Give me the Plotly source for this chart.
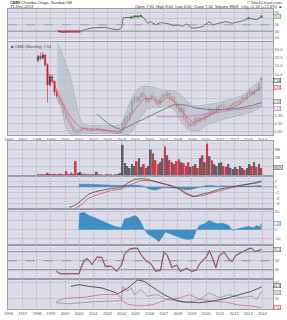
import math
import plotly.graph_objects as go

# ---------------- text ----------------
title_left = "<b>CEMI</b> Chembio Diags, Nasdaq GM"
date_text = "31-Dec-2013"
quote_text = "Open 7.90  High 8.60  Low 6.00  Close 7.54  Volume 880K  Chg +1.34 (+21.6%) ▲"
credit = "© StockCharts.com"
price_label = "■ CEMI (Monthly) 7.54"

year_ticks = list(range(1996, 2015))
year_labels = [str(y) for y in year_ticks]

# ---------------- price candles (two-month bars, Jan/Feb 1998 ... Nov/Dec 2013) ----------------
price_open = [20, 24, 22, 26, 16, 6,
              9, 7, 4.2, 3.4, 2.6, 2.2,
              1.5, 1.1, 0.95, 0.78, 0.62, 0.58,
              0.62, 0.66, 0.72, 0.68, 0.64, 0.62,
              0.68, 0.66, 0.70, 0.66, 0.63, 0.66,
              0.61, 0.63, 0.59, 0.57, 0.60, 0.56,
              0.62, 0.90, 1.15, 1.25, 1.5, 2.6,
              3.2, 2.7, 3.3, 3.9, 3.4, 2.6,
              3.0, 3.5, 3.2, 2.5, 2.3, 3.1,
              3.7, 3.4, 4.0, 3.1, 3.3, 2.5,
              2.0, 1.6, 1.9, 1.2, 0.95, 0.8,
              0.9, 0.82, 1.15, 1.0, 1.2, 1.1,
              1.3, 1.25, 1.8, 1.45, 1.7, 1.9,
              2.1, 2.2, 2.0, 1.85, 1.95, 2.2,
              2.4, 2.6, 2.5, 2.8, 3.2, 3.0,
              3.8, 4.5, 3.7, 4.6, 4.4, 7.9]
price_high = [26, 29, 30, 27, 17, 10,
              10, 7.5, 4.8, 3.6, 3.0, 2.3,
              1.6, 1.35, 1.05, 0.80, 0.70, 0.68,
              0.72, 0.78, 0.76, 0.72, 0.68, 0.72,
              0.72, 0.72, 0.74, 0.70, 0.69, 0.68,
              0.66, 0.65, 0.63, 0.62, 0.62, 0.64,
              0.95, 1.3, 1.35, 1.6, 3.0, 3.5,
              3.4, 3.5, 4.2, 5.4, 3.6, 3.3,
              3.8, 4.2, 3.5, 2.8, 3.3, 4.0,
              4.5, 4.5, 4.1, 3.6, 3.4, 2.7,
              2.4, 2.1, 2.0, 1.3, 1.05, 1.0,
              1.0, 1.25, 1.3, 1.3, 1.35, 1.4,
              1.55, 2.0, 1.9, 1.8, 2.1, 2.3,
              2.4, 2.6, 2.3, 2.1, 2.3, 2.6,
              2.8, 3.0, 3.0, 3.5, 3.6, 4.0,
              4.9, 4.8, 5.0, 5.6, 6.5, 8.6]
price_low = [18, 20, 21, 15, 2.5, 5.5,
             6.5, 3.5, 3.0, 2.3, 2.0, 1.3,
             1.0, 0.85, 0.70, 0.56, 0.53, 0.55,
             0.60, 0.60, 0.64, 0.60, 0.58, 0.60,
             0.62, 0.62, 0.63, 0.60, 0.58, 0.58,
             0.57, 0.56, 0.55, 0.53, 0.53, 0.53,
             0.58, 0.85, 1.0, 1.05, 1.4, 2.3,
             2.4, 2.5, 2.8, 3.0, 2.3, 2.4,
             2.7, 3.0, 2.3, 2.0, 2.2, 2.8,
             3.1, 3.2, 2.8, 2.6, 2.3, 1.7,
             1.45, 1.35, 1.05, 0.85, 0.70, 0.75,
             0.76, 0.80, 0.90, 0.95, 1.0, 1.0,
             1.15, 1.2, 1.3, 1.35, 1.6, 1.7,
             1.9, 1.8, 1.7, 1.65, 1.75, 2.0,
             2.1, 2.3, 2.2, 2.6, 2.8, 2.9,
             3.5, 3.4, 3.6, 4.2, 4.3, 6.0]
price_close = [24, 22, 26, 16, 6, 9,
               7, 4.2, 3.4, 2.6, 2.2, 1.5,
               1.1, 0.95, 0.78, 0.62, 0.58, 0.62,
               0.66, 0.72, 0.68, 0.64, 0.62, 0.68,
               0.66, 0.70, 0.66, 0.63, 0.66, 0.61,
               0.63, 0.59, 0.57, 0.60, 0.56, 0.62,
               0.90, 1.15, 1.25, 1.5, 2.6, 3.2,
               2.7, 3.3, 3.9, 3.4, 2.6, 3.0,
               3.5, 3.2, 2.5, 2.3, 3.1, 3.7,
               3.4, 4.0, 3.1, 3.3, 2.5, 2.0,
               1.6, 1.9, 1.2, 0.95, 0.8, 0.9,
               0.82, 1.15, 1.0, 1.2, 1.1, 1.3,
               1.25, 1.8, 1.45, 1.7, 1.9, 2.1,
               2.2, 2.0, 1.85, 1.95, 2.2, 2.4,
               2.6, 2.5, 2.8, 3.2, 3.0, 3.8,
               4.5, 3.7, 4.6, 4.4, 6.2, 7.54]
volume_k = [110, 110, 165, 165, 330, 220,
            165, 220, 110, 220, 220, 165,
            550, 220, 330, 220, 1650, 330,
            440, 220, 220, 165, 110, 110,
            110, 440, 110, 110, 55, 110,
            110, 110, 55, 110, 220, 330,
            3500, 1430, 1100, 880, 1320, 1100,
            1650, 1980, 990, 1320, 880, 1100,
            2970, 2530, 1760, 1320, 1540, 1980,
            3300, 2310, 1760, 1540, 1320, 1650,
            1870, 1540, 1430, 1100, 1540, 990,
            1100, 1320, 880, 1980, 2310, 1540,
            3630, 2200, 1760, 1320, 1100, 1430,
            1540, 1100, 990, 1320, 880, 770,
            990, 770, 1100, 880, 660, 880,
            1320, 1100, 1540, 990, 1320, 880]
period_x = [1998 + (i + 0.5) / 6 for i in range(len(price_close))]

# ---------------- overlays on the price panel ----------------
ma_red_x = [1998.75, 1999.0, 1999.37, 1999.83, 2000.30, 2000.76, 2001.22, 2002.0, 2003.0, 2004.0,
            2004.22, 2004.69, 2005.15, 2005.61, 2006.30, 2006.77, 2007.23, 2007.69, 2008.16, 2008.62,
            2009.08, 2009.54, 2010.24, 2010.93, 2011.86, 2012.55, 2013.24, 2013.93]
ma_red_y = [11, 9, 4.9, 2.36, 1.33, 0.89, 0.70, 0.67, 0.63, 0.60,
            0.75, 1.33, 2.15, 3.0, 3.0, 2.5, 3.2, 2.77, 1.85, 1.25,
            0.94, 1.05, 1.33, 1.71, 1.9, 2.5, 3.8, 5.3]
ma_gray_x = [2002.26, 2002.61, 2003.07, 2003.53, 2004.0, 2004.46, 2004.92, 2005.61, 2006.30, 2007.0,
             2007.69, 2008.16, 2008.62, 2009.31, 2010.0, 2010.47, 2011.40, 2012.32, 2013.24, 2013.93]
ma_gray_y = [1.45, 1.14, 0.89, 0.73, 0.66, 0.77, 0.89, 1.14, 1.45, 1.85,
             2.25, 2.25, 2.2, 1.9, 1.78, 1.75, 1.78, 1.9, 2.15, 2.49]
ma_purple_x = [2006.54, 2007.5, 2008.4, 2009.5, 2010.5, 2011.86, 2013.2, 2013.93]
ma_purple_y = [1.25, 1.25, 1.25, 1.35, 1.5, 1.71, 1.9, 2.1]
bb_up_x = [1999.45, 1999.7, 2000.0, 2000.3, 2000.53, 2000.76, 2000.99, 2001.22, 2001.68, 2002.61,
           2003.53, 2004.0, 2004.22, 2004.46, 2004.8, 2005.15, 2005.61, 2006.30, 2007.0, 2007.69,
           2008.16, 2008.62, 2009.08, 2009.54, 2010.24, 2010.93, 2011.86, 2012.55, 2013.24, 2013.93]
bb_up_y = [45, 34, 19, 11, 5.7, 2.5, 1.33, 0.89, 0.80, 0.82,
           0.80, 0.85, 1.33, 2.0, 3.5, 4.9, 5.7, 5.3, 4.5, 4.5,
           3.8, 2.77, 2.15, 2.15, 2.3, 2.5, 3.0, 3.5, 5.3, 7.9]
bb_lo_x = [1999.45, 1999.7, 2000.0, 2000.3, 2000.6, 2000.99, 2001.22, 2003.77, 2004.0, 2004.5,
           2004.92, 2005.38, 2005.85, 2006.54, 2007.23, 2007.69, 2008.16, 2008.62, 2009.08, 2009.54,
           2010.0, 2010.70, 2011.40, 2012.32, 2013.24, 2013.93]
bb_lo_y = [3.0, 2.07, 0.82, 0.55, 0.5, 0.5, 0.55, 0.55, 0.53, 0.52,
           0.70, 1.25, 1.85, 2.0, 2.15, 1.85, 1.05, 0.70, 0.60, 0.63,
           0.82, 0.97, 1.14, 1.33, 1.57, 2.0]

# ---------------- top panel (rank line) ----------------
rank_low_x = [1999.49, 1999.8, 2000.2, 2000.6, 2001.1]
rank_low_y = [30, 28, 29, 28, 29]
rank_x = [2001.1, 2001.22, 2001.91, 2002.84, 2003.30, 2003.77, 2004.0, 2004.11, 2004.22, 2004.69,
          2004.92, 2005.15, 2005.38, 2005.61, 2005.85, 2006.07, 2006.42, 2006.77, 2007.0, 2007.34,
          2007.69, 2008.04, 2008.34, 2008.62, 2008.97, 2009.31, 2009.77, 2010.24, 2010.47, 2010.93,
          2011.40, 2011.86, 2012.32, 2012.66, 2013.01, 2013.36, 2013.59, 2013.93]
rank_y = [29, 32, 40, 42, 37, 34, 40, 71, 73, 73,
          76, 76, 78, 71, 55, 60, 50, 57, 55, 53,
          47, 50, 45, 53, 40, 40, 45, 60, 50, 55,
          60, 55, 60, 63, 71, 69, 66, 76]
rank_hi_x = [2004.69, 2004.92, 2005.15, 2005.38, 2013.01, 2013.93]
rank_hi_y = [73, 76, 76, 78, 71, 76]

# ---------------- MACD-style panel ----------------
macd_x = [2000.30, 2000.64, 2000.99, 2001.34, 2001.68, 2002.14, 2002.61, 2003.30, 2004.0, 2004.46,
          2004.92, 2005.38, 2005.85, 2006.54, 2007.23, 2007.93, 2008.62, 2009.08, 2009.54, 2010.24,
          2010.93, 2011.86, 2012.78, 2013.47, 2013.93]
macd_y = [-7.3, -6.7, -5.5, -4.0, -2.6, -1.7, -1.2, -0.5, -0.25, 1.5,
          2.7, 3.0, 2.7, 1.8, 0.9, -0.25, -2.6, -3.5, -2.8, -2.0,
          -0.8, 0.0, 0.9, 1.5, 2.1]
signal_x = [2000.64, 2001.22, 2001.68, 2002.38, 2003.30, 2004.0, 2004.69, 2005.38, 2006.07, 2006.77,
            2007.46, 2008.16, 2008.85, 2009.31, 2010.0, 2010.70, 2011.63, 2012.55, 2013.47, 2013.93]
signal_y = [-7.9, -6.1, -4.0, -2.6, -1.2, -0.8, 0.9, 2.3, 2.3, 1.5,
            0.7, -0.8, -2.8, -3.5, -2.8, -1.7, -0.5, 0.6, 1.3, 1.8]
hist_x = [2000.99, 2001.0, 2001.2, 2001.5, 2001.9, 2002.3, 2002.8, 2003.3, 2003.8, 2004.2,
          2004.7, 2005.2, 2005.6, 2005.85, 2006.1, 2006.4, 2006.6, 2006.9, 2007.2, 2007.6,
          2008.0, 2008.4, 2008.7, 2009.0, 2009.3, 2009.6, 2010.0, 2010.4, 2010.8, 2011.3,
          2011.8, 2012.3, 2012.8, 2013.3, 2013.93]
hist_y = [0, 0.9, 1.1, 1.0, 0.9, 0.8, 0.7, 0.6, 0.5, 0.6,
          0.7, 0.6, 0.3, -0.5, -0.9, -1.1, -0.8, -0.3, -0.3, -0.4,
          -0.5, -0.9, -1.0, -0.8, -0.4, 0.2, 0.5, 0.5, 0.3, 0.35,
          0.3, 0.3, 0.4, 0.35, 0.5]

# ---------------- oscillator histogram panel ----------------
osc_x = [2000.97, 2001.03, 2001.34, 2001.68, 2002.14, 2002.61, 2003.07, 2003.53, 2004.0, 2004.22,
         2004.57, 2004.92, 2005.15, 2005.38, 2005.61, 2005.85, 2006.19, 2006.42, 2006.65, 2006.88,
         2007.11, 2007.46, 2007.69, 2008.04, 2008.38, 2008.74, 2009.08, 2009.31, 2009.54, 2009.89,
         2010.24, 2010.47, 2010.82, 2011.16, 2011.63, 2011.86, 2012.20, 2012.55, 2013.01, 2013.36,
         2013.59, 2013.82, 2013.93]
osc_y = [0, 18.5, 19.7, 16, 13.3, 10.4, 6.7, 3.7, 2.2, 12.2,
         13.3, 16, 14, 8.5, 1, -4.4, -8.1, -10, -13.7, -8,
         -2.6, -4.4, -6.3, -8, -10, -11, -10, -0.7, 4.8, 6.7,
         10.4, 8.5, 6.7, 7.4, 4.8, -0.7, 1, 2.2, 3.7, 2.2,
         4.8, 3.0, 7.4]

# ---------------- RSI panel ----------------
rsi_x = [1999.37, 1999.60, 1999.83, 2000.30, 2000.99, 2001.10, 2001.34, 2001.57, 2001.91, 2002.26,
         2002.61, 2002.84, 2003.30, 2003.65, 2003.88, 2004.0, 2004.22, 2004.57, 2004.92, 2005.15,
         2005.38, 2005.73, 2006.07, 2006.42, 2006.77, 2007.0, 2007.23, 2007.58, 2007.93, 2008.16,
         2008.38, 2008.62, 2008.97, 2009.31, 2009.54, 2010.0, 2010.24, 2010.47, 2010.70, 2010.93,
         2011.28, 2011.63, 2011.86, 2012.09, 2012.32, 2012.55, 2012.78, 2013.01, 2013.24, 2013.47,
         2013.70, 2013.93]
rsi_y = [27.9, 21.3, 21, 21, 21.5, 33.6, 51.8, 55.4, 41, 59,
         58, 37, 38, 26, 37, 41, 66, 77, 78, 78,
         63, 49, 44, 26, 29, 70, 63, 34, 41, 26,
         29, 34, 26, 29, 44, 59, 73.6, 55, 34, 62,
         70, 52, 48, 62, 66, 70, 73, 77, 78, 70,
         73, 76]
rsi_sig_y = [26, 23, 21, 21, 21, 30, 47, 54, 44, 56,
             57, 40, 37, 28, 35, 40, 62, 74, 77, 77,
             65, 51, 45, 29, 28, 65, 64, 38, 39, 28,
             29, 33, 27, 29, 42, 56, 70, 57, 37, 59,
             68, 54, 49, 60, 65, 69, 72, 76, 77, 71,
             72, 75]

# ---------------- ADX panel ----------------
adx_x = [2000.41, 2000.99, 2001.68, 2002.61, 2003.77, 2004.46, 2005.15, 2005.61, 2006.30, 2007.0,
         2007.69, 2008.38, 2009.54, 2010.47, 2011.40, 2012.32, 2013.24, 2013.93]
adx_y = [42.9, 46, 42.9, 39.8, 29.2, 39.8, 55, 52.3, 39.8, 27.4,
         18.1, 13.7, 11.8, 14.9, 19.9, 26.1, 33.6, 41.6]
pdi_x = [1999.37, 2000.30, 2001.68, 2002.61, 2003.77, 2004.0, 2004.11, 2004.34, 2004.69, 2004.92,
         2005.38, 2005.85, 2006.54, 2007.23, 2007.93, 2008.62, 2009.54, 2010.24, 2010.93, 2011.63,
         2012.32, 2013.24, 2013.59, 2013.93]
pdi_y = [11.8, 9.9, 13.1, 13.7, 14.9, 16, 42.9, 33.6, 39.8, 27.4,
         36.7, 24.3, 27.4, 18.1, 14.9, 11.8, 18.1, 30.5, 21.2, 27.4,
         21.2, 24.3, 18.1, 33.6]
mdi_x = [1999.37, 1999.95, 2000.53, 2001.45, 2002.61, 2003.77, 2004.11, 2004.46, 2005.38, 2006.30,
         2007.23, 2008.16, 2008.85, 2009.54, 2010.47, 2011.40, 2012.32, 2013.24, 2013.93]
mdi_y = [13.7, 19.9, 21.2, 22.4, 27.4, 27.4, 14.9, 8.7, 5.6, 8.7,
         18.1, 21.2, 27.4, 18.1, 14.9, 13.1, 7.5, 5.6, 2.5]

# ---------------- styling / layout ----------------
BG = "#dcdce8"
GRID = "#c6c6d5"
FRAME = "#9c9cac"
RED = "#cc1f2f"
DARK = "#3a3a3a"
FONT = "Liberation Sans"
X_RANGE = [1995.95, 2014.75]

TOP, BOT = 9, 313


def dom(t, b):
    h = BOT - TOP
    return [(BOT - b) / h, (BOT - t) / h]


panels = {1: (9, 41), 2: (42, 137), 3: (143, 178), 4: (178, 212),
          5: (212, 248), 6: (248, 283), 7: (283, 313)}

fig = go.Figure()

# top panel
fig.add_trace(go.Scatter(x=rank_x, y=rank_y, mode="lines", line=dict(color="#555", width=0.8),
                         xaxis="x", yaxis="y"))
fig.add_trace(go.Scatter(x=rank_low_x, y=rank_low_y, mode="lines", line=dict(color=RED, width=2),
                         xaxis="x", yaxis="y"))
fig.add_trace(go.Scatter(x=rank_hi_x, y=rank_hi_y, mode="markers",
                         marker=dict(color="#2e8b3a", size=2.5), xaxis="x", yaxis="y"))

# price panel
fig.add_trace(go.Scatter(x=bb_up_x + bb_lo_x[::-1], y=bb_up_y + bb_lo_y[::-1], fill="toself",
                         fillcolor="rgba(185,192,200,0.75)", line=dict(color="#a8aeb6", width=0.6),
                         xaxis="x2", yaxis="y2"))
fig.add_trace(go.Scatter(x=ma_gray_x, y=ma_gray_y, mode="lines", line=dict(color="#6a6a6a", width=0.8),
                         xaxis="x2", yaxis="y2"))
fig.add_trace(go.Scatter(x=ma_purple_x, y=ma_purple_y, mode="lines", line=dict(color="#d070d8", width=0.8),
                         xaxis="x2", yaxis="y2"))
fig.add_trace(go.Scatter(x=ma_red_x, y=ma_red_y, mode="lines", line=dict(color="#e05060", width=0.7),
                         xaxis="x2", yaxis="y2"))
fig.add_trace(go.Candlestick(x=period_x, open=price_open, high=price_high, low=price_low,
                             close=price_close, xaxis="x2", yaxis="y2", whiskerwidth=0,
                             increasing=dict(line=dict(color=DARK, width=0.6), fillcolor=DARK),
                             decreasing=dict(line=dict(color=RED, width=0.6), fillcolor=RED)))

# volume
vol_colors = [RED if c < o else "#4a4a4a" for o, c in zip(price_open, price_close)]
fig.add_trace(go.Bar(x=period_x, y=volume_k, marker=dict(color=vol_colors, line=dict(width=0)),
                     width=1 / 6 * 0.75, opacity=0.85, xaxis="x3", yaxis="y3"))

# MACD-style
fig.add_trace(go.Scatter(x=hist_x, y=hist_y, fill="tozeroy", fillcolor="#3f8fc6",
                         line=dict(color="#3a86bd", width=0.5), xaxis="x4", yaxis="y4"))
fig.add_trace(go.Scatter(x=signal_x, y=signal_y, mode="lines", line=dict(color="#e04050", width=0.7),
                         xaxis="x4", yaxis="y4"))
fig.add_trace(go.Scatter(x=macd_x, y=macd_y, mode="lines", line=dict(color="#333", width=0.7),
                         xaxis="x4", yaxis="y4"))

# oscillator histogram
fig.add_trace(go.Scatter(x=osc_x, y=osc_y, fill="tozeroy", fillcolor="#3f8fc6",
                         line=dict(color="#3a86bd", width=0.5), xaxis="x5", yaxis="y5"))

# RSI
fig.add_trace(go.Scatter(x=rsi_x, y=rsi_sig_y, mode="lines", line=dict(color="#e05060", width=0.8),
                         xaxis="x6", yaxis="y6"))
fig.add_trace(go.Scatter(x=rsi_x, y=rsi_y, mode="lines", line=dict(color="#444", width=0.7),
                         xaxis="x6", yaxis="y6"))

# ADX
fig.add_trace(go.Scatter(x=mdi_x, y=mdi_y, mode="lines", line=dict(color="#d06070", width=0.7),
                         xaxis="x7", yaxis="y7"))
fig.add_trace(go.Scatter(x=pdi_x, y=pdi_y, mode="lines", line=dict(color="#8a8a8a", width=0.7),
                         xaxis="x7", yaxis="y7"))
fig.add_trace(go.Scatter(x=adx_x, y=adx_y, mode="lines", line=dict(color="#333", width=0.8),
                         xaxis="x7", yaxis="y7"))

tick_font = dict(size=4, color="#555", family=FONT)
layout = dict(width=287, height=320, margin=dict(l=4, r=11, t=9, b=7),
              paper_bgcolor="white", plot_bgcolor=BG, showlegend=False,
              font=dict(family=FONT, size=4, color="#333"))

for i, (t, b) in panels.items():
    xk = "xaxis" if i == 1 else f"xaxis{i}"
    yk = "yaxis" if i == 1 else f"yaxis{i}"
    xa = "x" if i == 1 else f"x{i}"
    ya = "y" if i == 1 else f"y{i}"
    layout[xk] = dict(domain=[0, 1], anchor=ya, range=X_RANGE, autorange=False,
                      tickvals=year_ticks, ticktext=year_labels, showticklabels=(i in (2, 7)),
                      tickfont=tick_font, ticks="", showgrid=True, gridcolor=GRID, gridwidth=0.6,
                      zeroline=False, showline=True, mirror=True, linecolor=FRAME, linewidth=0.6,
                      fixedrange=True)
    layout[yk] = dict(domain=dom(t, b), anchor=xa, side="right", tickfont=tick_font, ticks="",
                      showgrid=True, gridcolor=GRID, gridwidth=0.6, zeroline=False,
                      showline=True, mirror=True, linecolor=FRAME, linewidth=0.6, fixedrange=True)

layout["xaxis2"]["rangeslider"] = dict(visible=False)

# tick labels that sit under a value box are left blank (gridline kept)
price_ticks = [0.6, 0.9, 1.35, 2, 3, 4.5, 7, 10, 15, 22.5, 34]
price_tick_text = ["0.60", "0.90", "1.35", "", "", "", "", "10.0", "15.0", "22.5", "34.0"]
layout["yaxis"].update(range=[0, 100], tickvals=[90, 70, 50, 30, 10],
                       ticktext=["90", "", "50", "30", "10"])
layout["yaxis2"].update(type="log", range=[math.log10(0.5), math.log10(50)], tickvals=price_ticks,
                        ticktext=price_tick_text)
layout["yaxis3"].update(range=[0, 3900], tickvals=[1000, 2000, 3000], ticktext=["", "2M", "3M"])
layout["yaxis4"].update(range=[-8, 4], tickvals=[2, 0, -2, -4, -6])
layout["yaxis5"].update(range=[-17, 23], tickvals=[20, 10, 0, -10], ticktext=["20", "", "0", "-10"])
layout["yaxis6"].update(range=[8.8, 85.3], tickvals=[70, 50, 30], ticktext=["", "50", "30"])
layout["yaxis7"].update(range=[0, 56], tickvals=[50, 20], ticktext=["50", "20"])

shapes = []
for yv, dash, col in [(50, "dash", "#8a8a96"), (30, "solid", "#7a7a86")]:
    shapes.append(dict(type="line", xref="x domain", yref="y", x0=0, x1=1, y0=yv, y1=yv,
                       line=dict(color=col, width=0.7, dash=dash)))
for yv, dash in [(70, "solid"), (50, "dash"), (30, "solid")]:
    shapes.append(dict(type="line", xref="x6 domain", yref="y6", x0=0, x1=1, y0=yv, y1=yv,
                       line=dict(color="#7a7a86", width=0.7, dash=dash)))
shapes.append(dict(type="line", xref="x4 domain", yref="y4", x0=0, x1=1, y0=0, y1=0,
                   line=dict(color="#8a8a96", width=0.5)))
layout["shapes"] = shapes

hdr = dict(size=4, color="#333", family=FONT)
ann = [
    dict(xref="paper", yref="paper", x=0.0, y=1.021, xanchor="left", yanchor="middle",
         text=title_left, showarrow=False, font=hdr),
    dict(xref="paper", yref="paper", x=0.0, y=1.008, xanchor="left", yanchor="middle",
         text=date_text, showarrow=False, font=hdr),
    dict(xref="paper", yref="paper", x=1.04, y=1.021, xanchor="right", yanchor="middle",
         text=credit, showarrow=False, font=hdr),
    dict(xref="paper", yref="paper", x=1.04, y=1.008, xanchor="right", yanchor="middle",
         text=quote_text, showarrow=False, font=hdr),
    dict(xref="paper", yref="paper", x=0.004, y=dom(*panels[2])[1] - 0.002, xanchor="left",
         yanchor="top", text=price_label, showarrow=False, font=dict(size=4, color="#444", family=FONT)),
]
box_labels = [("y2", math.log10(7.54), "7.54", "#222", 0),
              ("y2", math.log10(5.3), "5.33", RED, 0),
              ("y2", math.log10(2.49), "2.49", "#555", 1.5),
              ("y2", math.log10(2.1), "2.10", "#b050c0", -2),
              ("y", 76, "76.0", "#2e8b3a", 0),
              ("y3", 880, "880K", "#444", 0),
              ("y5", 7.4, "7.40", "#3a86bd", 0),
              ("y6", 76, "76.1", "#444", 0),
              ("y7", 41.6, "41.6", "#333", 1.5),
              ("y7", 33.6, "33.6", "#777", -1.5),
              ("y7", 2.5, "2.50", RED, 0)]
for yref, yv, txt, col, ysh in box_labels:
    ann.append(dict(xref="paper", yref=yref, x=1.0, y=yv, xanchor="left", yanchor="middle",
                    text=txt, showarrow=False, font=dict(size=3.6, color=col, family=FONT),
                    bgcolor="white", bordercolor=col, borderwidth=0.5, borderpad=0, yshift=ysh))
layout["annotations"] = ann

fig.update_layout(**layout)
fig.write_html("out.html")
